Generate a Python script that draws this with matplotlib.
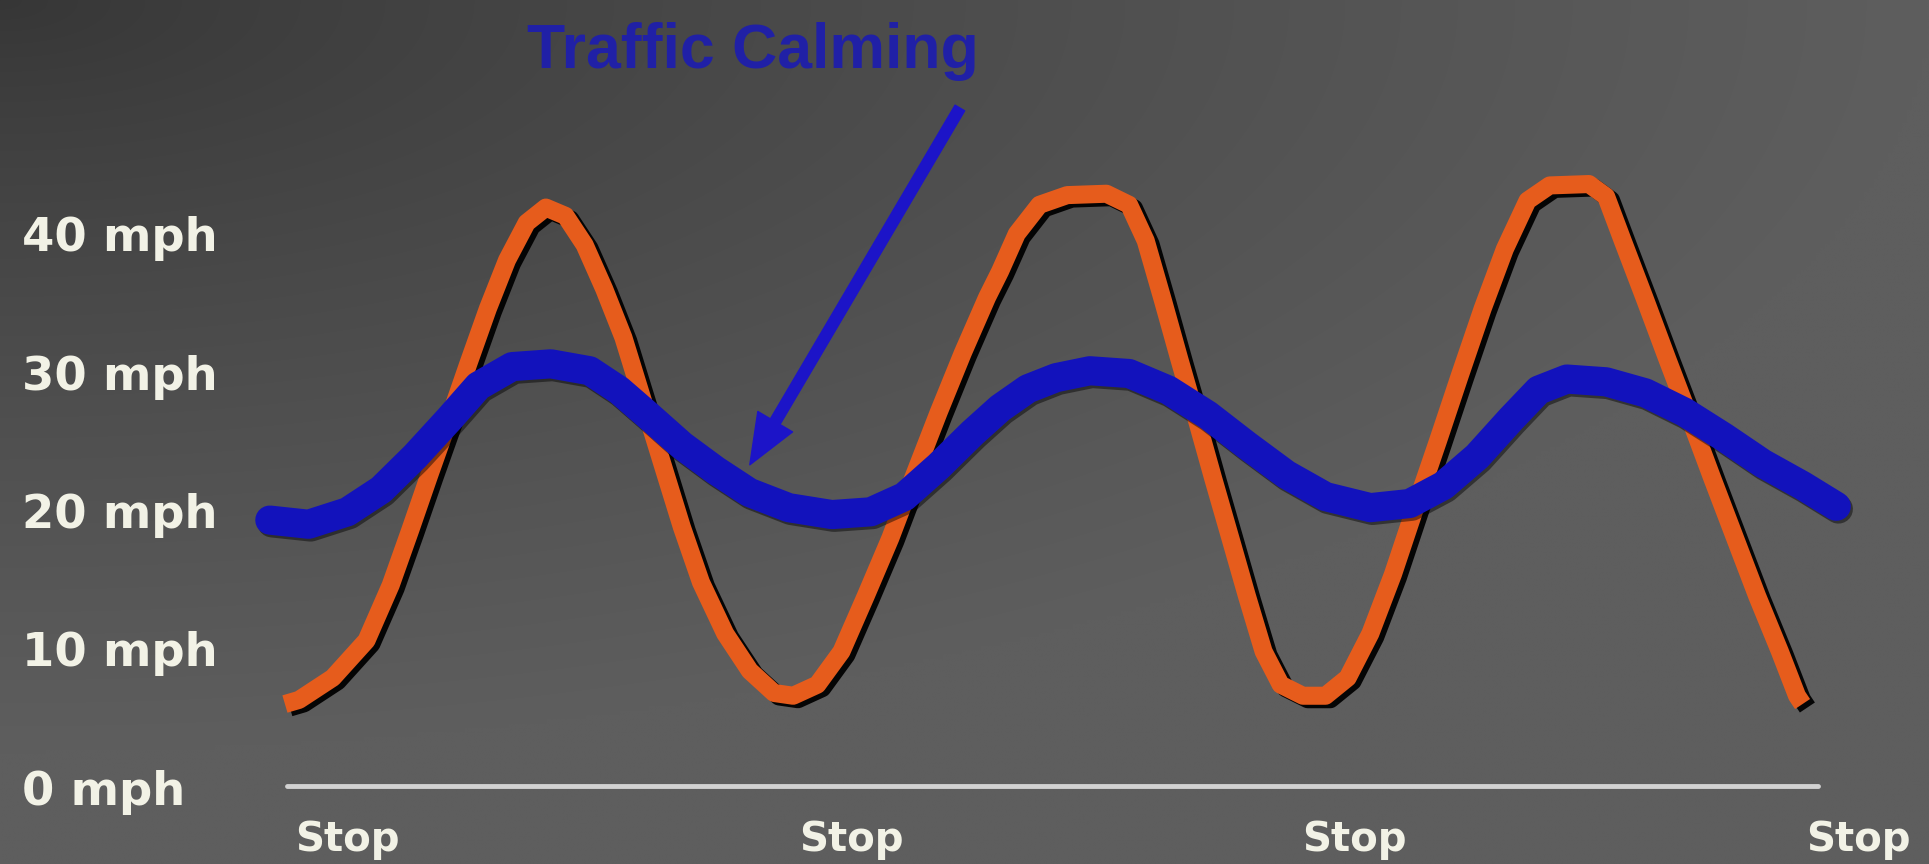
import numpy as np
import matplotlib
matplotlib.use("Agg")
import matplotlib.pyplot as plt
import matplotlib.patheffects as pe

# Speed profile between stops (x in stop-to-stop segments, y in mph)
speed_ticks = [0, 10, 20, 30, 40]
speed_labels = ["0 mph", "10 mph", "20 mph", "30 mph", "40 mph"]
stop_positions = [0, 1, 2, 3]
stop_labels = ["Stop", "Stop", "Stop", "Stop"]
title_text = "Traffic Calming"

# Uncalmed street: accelerate hard, brake hard
fast_x = [-0.020, 0.008, 0.075, 0.142, 0.190, 0.229, 0.267, 0.306, 0.344, 0.383,
          0.421, 0.460, 0.498, 0.537, 0.575, 0.614, 0.652, 0.691, 0.729, 0.768,
          0.806, 0.854, 0.903, 0.951, 0.989, 1.037, 1.085, 1.133, 1.182, 1.230,
          1.278, 1.326, 1.374, 1.400, 1.433, 1.478, 1.533, 1.611, 1.656, 1.689,
          1.723, 1.756, 1.790, 1.823, 1.857, 1.890, 1.923, 1.957, 2.001, 2.046,
          2.090, 2.135, 2.180, 2.224, 2.269, 2.313, 2.358, 2.402, 2.447, 2.491,
          2.569, 2.603, 2.636, 2.681, 2.725, 2.770, 2.814, 2.859, 2.903, 2.948,
          2.982, 2.993]
fast_mph = [6.0, 6.3, 7.9, 10.6, 14.6, 18.6, 22.6, 26.6, 30.6, 34.6,
            38.1, 40.8, 41.9, 41.3, 39.2, 36.0, 32.5, 27.9, 23.4, 18.8,
            14.8, 11.1, 8.4, 6.8, 6.6, 7.4, 9.8, 13.8, 18.0, 22.6,
            27.1, 31.4, 35.4, 37.3, 40.0, 42.1, 42.8, 42.9, 42.1, 39.5,
            35.2, 30.9, 26.6, 22.3, 18.0, 13.8, 9.8, 7.4, 6.6, 6.6,
            7.9, 11.1, 15.4, 20.2, 25.0, 29.8, 34.6, 38.9, 42.4, 43.5,
            43.6, 42.7, 39.5, 35.2, 30.9, 26.6, 22.3, 18.0, 13.8, 9.8,
            6.6, 6.0]

# Calmed street: speed stays between roughly 20 and 30 mph
calm_x = [-0.050, 0.027, 0.104, 0.171, 0.238, 0.306, 0.364, 0.431, 0.508, 0.585,
          0.643, 0.700, 0.768, 0.835, 0.902, 0.980, 1.066, 1.143, 1.210, 1.278,
          1.345, 1.400, 1.455, 1.511, 1.578, 1.656, 1.734, 1.812, 1.890, 1.968,
          2.046, 2.135, 2.213, 2.280, 2.347, 2.414, 2.469, 2.525, 2.603, 2.681,
          2.759, 2.837, 2.914, 2.993, 3.060]
calm_mph = [19.3, 19.0, 19.9, 21.5, 23.9, 26.6, 29.0, 30.4, 30.6, 30.1,
            28.7, 26.9, 24.7, 22.9, 21.3, 20.2, 19.7, 19.9, 21.0, 23.2,
            25.6, 27.4, 28.8, 29.6, 30.1, 29.9, 28.7, 26.9, 24.7, 22.6,
            21.0, 20.2, 20.5, 21.8, 23.9, 26.6, 28.7, 29.5, 29.3, 28.5,
            27.1, 25.3, 23.4, 21.8, 20.3]

W, H, DPI = 1929, 864, 100
fig = plt.figure(figsize=(W / DPI, H / DPI), dpi=DPI)

# Dark gray backdrop, darkest in the top-left corner
bg = fig.add_axes([0, 0, 1, 1], zorder=0)
gx, gy = np.meshgrid(np.linspace(0, 1, 400), np.linspace(0, 1, 200))
r = np.clip(np.sqrt(gx ** 2 + (1.15 * gy) ** 2), 0, 1) ** 0.8
shade = (54 + 40 * r) / 255.0
bg.imshow(np.dstack([shade, shade, shade]), extent=[0, 1, 1, 0], aspect="auto",
          interpolation="bilinear")
bg.set_xlim(0, 1)
bg.set_ylim(1, 0)
bg.axis("off")

ax = fig.add_axes([0.1216, 0.0731, 0.846, 0.7683], zorder=1)
ax.set_facecolor("none")
ax.set_xlim(-0.12, 3.12)
ax.set_ylim(-1, 47)
for s in ax.spines.values():
    s.set_visible(False)

# Ground line at 0 mph
ax.plot([-0.016, 3.024], [0.1, 0.1], color="#d2d2d2", lw=3.5,
        solid_capstyle="round", zorder=2)

ax.plot(fast_x, fast_mph, color="#e65c1c", lw=13, solid_capstyle="butt",
        solid_joinstyle="round", zorder=3,
        path_effects=[pe.SimpleLineShadow(offset=(3.5, -2.5), shadow_color="black",
                                          alpha=0.95), pe.Normal()])
ax.plot(calm_x, calm_mph, color="#1212bc", lw=21, solid_capstyle="round",
        solid_joinstyle="round", zorder=4,
        path_effects=[pe.SimpleLineShadow(offset=(1.5, -2), shadow_color="black",
                                          alpha=0.45), pe.Normal()])

# Pointer from the heading to the calmed curve
ax.annotate("", xy=(0.903, 23.3), xytext=(1.32, 49.1),
            arrowprops=dict(facecolor="#1c14c8", edgecolor="#1c14c8",
                            width=8, headwidth=29, headlength=36, shrink=0),
            annotation_clip=False, zorder=5)

fig.text(753 / W, 1 - 68 / H, title_text, ha="center", va="baseline",
         fontsize=45, fontweight="bold", family="Liberation Sans",
         color="#2020a6")

ax.set_yticks(speed_ticks, speed_labels)
ax.set_xticks(stop_positions, stop_labels)
ax.tick_params(axis="y", length=0, pad=153)
ax.tick_params(axis="x", length=0, pad=14)
for lbl in ax.get_yticklabels():
    lbl.set_ha("left")
    lbl.set_fontsize(33.5)
    lbl.set_fontweight("bold")
    lbl.set_family("DejaVu Sans")
    lbl.set_color("#f2f2e6")
for lbl in ax.get_xticklabels():
    lbl.set_ha("left")
    lbl.set_fontsize(29)
    lbl.set_fontweight("bold")
    lbl.set_family("DejaVu Sans")
    lbl.set_color("#f2f2e6")

fig.savefig("out.png", dpi=DPI)
